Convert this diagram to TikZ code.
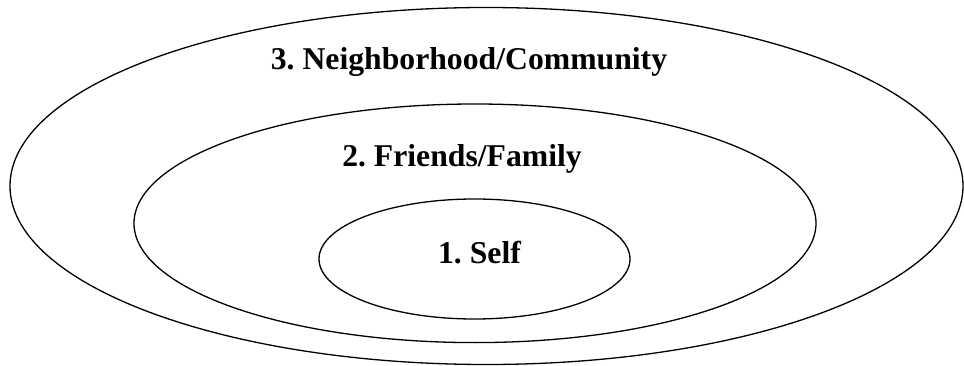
\documentclass[tikz,border=0pt]{standalone}
\usepackage{fontspec}
\setmainfont{Liberation Serif}
\usetikzlibrary{shapes.geometric}
\frenchspacing
\begin{document}
\begin{tikzpicture}[x=1pt,y=-1pt,
  ring/.style={draw=black,line width=1.3pt,ellipse,inner sep=0pt,outer sep=0pt},
  lbl/.style={anchor=base,inner sep=0pt,font=\fontsize{31.7}{38}\selectfont\bfseries}]
\useasboundingbox (0,0) rectangle (964,366);
\node[ring,minimum width=953pt,minimum height=357pt] (outer) at (486.5,186) {};
\node[ring,minimum width=682pt,minimum height=238.6pt] (middle) at (475,223.3) {};
\node[ring,minimum width=311pt,minimum height=120pt] (inner) at (474.5,259) {};
\node[lbl] (t3) at (469,70) {\frenchspacing 3. Neighborhood/Community};
\node[lbl] (t2) at (462,167) {\frenchspacing 2. Friends/Family};
\node[lbl] (t1) at (479.5,263) {\frenchspacing 1. Self};
\end{tikzpicture}
\end{document}
